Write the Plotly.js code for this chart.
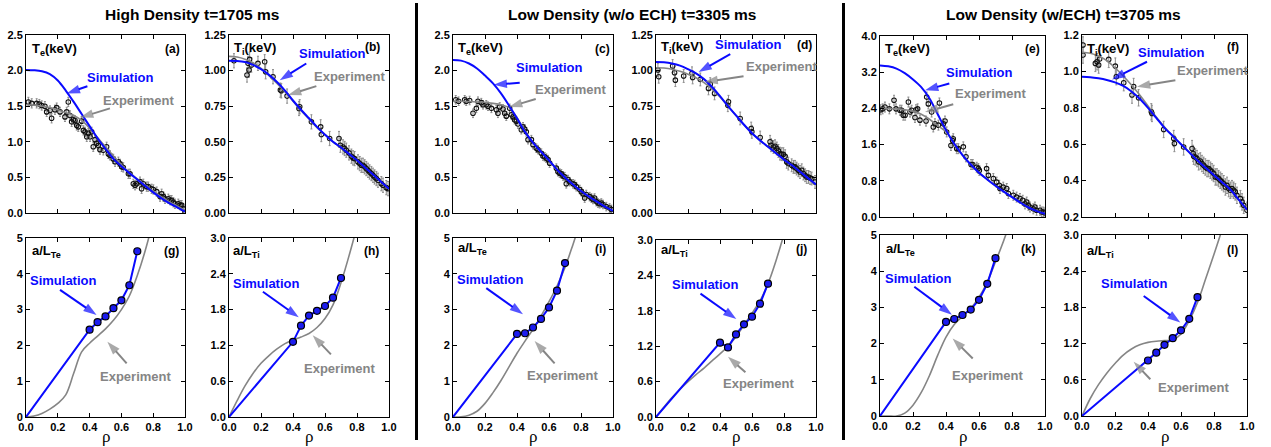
<!DOCTYPE html>
<html><head><meta charset="utf-8">
<script src="https://cdn.plot.ly/plotly-3.0.1.min.js"></script>
<style>html,body{margin:0;padding:0;background:#fff}#chart{width:1271px;height:447px}</style>
</head><body><div id="chart"></div>
<script>
// ---------------- DATA ----------------
const RHO = [0,0.05,0.1,0.15,0.2,0.25,0.3,0.35,0.4,0.45,0.5,0.55,0.6,0.65,0.7,0.75,0.8,0.85,0.9,0.95,1.0];
const RHO_B = [0,0.05,0.1,0.15,0.2,0.25,0.3,0.35,0.4,0.45,0.5,0.55,0.6,0.65,0.7,0.75,0.8,0.85];
const SIM_RHO = [0.4,0.45,0.5,0.55,0.6,0.65,0.7];

// top row: simulated and experimental-fit profiles
const simA = [2.01,2.005,1.99,1.95,1.86,1.72,1.56,1.39,1.22,1.05,0.90,0.76,0.655,0.56,0.47,0.38,0.29,0.21,0.14,0.08,0.02];
const expA = [1.52,1.515,1.50,1.48,1.45,1.41,1.37,1.30,1.19,1.06,0.93,0.80,0.68,0.57,0.48,0.39,0.31,0.23,0.16,0.10,0.04];
const simB = [1.07,1.068,1.06,1.04,1.01,0.97,0.92,0.86,0.79,0.725,0.665,0.605,0.55,0.50,0.46,0.415,0.37,0.32,0.27,0.22,0.17];
const expB = [1.10,1.095,1.08,1.055,1.015,0.965,0.91,0.85,0.785,0.72,0.66,0.60,0.55,0.50,0.46,0.415,0.37,0.32,0.27,0.22,0.17];
const simC = [2.15,2.14,2.10,2.03,1.93,1.82,1.68,1.51,1.33,1.14,0.99,0.86,0.74,0.61,0.50,0.40,0.31,0.23,0.16,0.09,0.03];
const expC = [1.57,1.57,1.565,1.56,1.555,1.54,1.52,1.48,1.34,1.15,0.99,0.86,0.74,0.61,0.50,0.40,0.31,0.23,0.16,0.09,0.03];
const simD = [1.06,1.058,1.05,1.035,1.01,0.98,0.94,0.885,0.82,0.75,0.685,0.62,0.56,0.51,0.465,0.42,0.375,0.335,0.29,0.245,0.20];
const expD = [1.02,1.018,1.01,0.995,0.975,0.95,0.915,0.87,0.815,0.75,0.685,0.62,0.56,0.51,0.465,0.42,0.375,0.335,0.29,0.245,0.20];
const simE = [3.35,3.33,3.28,3.18,3.04,2.87,2.62,2.27,1.92,1.62,1.37,1.16,0.98,0.83,0.69,0.56,0.44,0.32,0.21,0.13,0.07];
const expE = [2.40,2.395,2.39,2.37,2.34,2.27,2.16,2.02,1.88,1.62,1.37,1.16,0.98,0.83,0.69,0.56,0.44,0.32,0.21,0.13,0.07];
const simF = [0.97,0.968,0.962,0.953,0.94,0.92,0.89,0.85,0.80,0.745,0.69,0.645,0.60,0.555,0.51,0.47,0.43,0.39,0.35,0.295,0.24];
const expF = [1.105,1.10,1.085,1.06,1.02,0.975,0.925,0.87,0.81,0.75,0.695,0.645,0.60,0.555,0.51,0.47,0.43,0.39,0.35,0.295,0.24];

// top row: measured points
const ptsA_r = [0.015,0.036,0.067,0.084,0.099,0.119,0.130,0.151,0.161,0.182,0.193,0.214,0.245,0.256,0.266,0.277,0.287,0.298,0.308,0.319,0.329,0.350,0.361,0.371,0.382,0.392,0.403,0.413,0.423,0.434,0.444,0.455,0.465,0.486,0.507,0.518,0.528,0.549,0.560,0.581,0.591,0.602,0.612,0.644,0.654,0.675,0.686,0.696,0.717,0.727,0.738,0.759,0.769,0.790,0.801,0.822,0.843,0.853,0.864,0.874,0.895,0.906,0.916,0.927,0.937,0.958,0.969,0.979,0.990,1.0];
const ptsA_v = [1.56,1.54,1.54,1.53,1.51,1.50,1.42,1.44,1.33,1.45,1.48,1.42,1.35,1.42,1.56,1.37,1.28,1.31,1.30,1.23,1.21,1.29,1.16,1.14,1.07,1.12,1.07,1.14,0.93,1.03,0.98,0.95,0.89,0.88,0.93,0.83,0.81,0.76,0.72,0.72,0.69,0.65,0.64,0.55,0.55,0.41,0.39,0.41,0.44,0.34,0.41,0.37,0.37,0.34,0.33,0.30,0.23,0.27,0.23,0.20,0.20,0.18,0.18,0.15,0.13,0.13,0.11,0.11,0.06,0.01];
const ptsB_r = [0.031,0.1125,0.119,0.125,0.129,0.140,0.181,0.223,0.229,0.275,0.321,0.327,0.363,0.4375,0.442,0.515,0.573,0.577,0.629,0.6875,0.696,0.7125,0.723,0.733,0.75,0.765,0.775,0.785,0.806,0.817,0.827,0.8375,0.848,0.858,0.869,0.879,0.890,0.9,0.910,0.921,0.931,0.952,0.9625,0.983,0.994];
const ptsB_v = [1.069,0.969,1.051,1.004,1.079,1.039,1.051,1.062,0.992,0.957,0.863,0.858,0.821,0.734,0.746,0.640,0.605,0.551,0.523,0.523,0.476,0.464,0.453,0.441,0.422,0.399,0.387,0.382,0.359,0.347,0.335,0.335,0.324,0.312,0.300,0.288,0.277,0.265,0.253,0.242,0.230,0.206,0.195,0.178,0.171];
const ptsC_r = [0.017,0.035,0.073,0.083,0.104,0.125,0.146,0.156,0.177,0.1875,0.208,0.219,0.240,0.271,0.281,0.292,0.3125,0.323,0.333,0.354,0.365,0.375,0.385,0.396,0.406,0.427,0.4375,0.448,0.458,0.469,0.490,0.5,0.521,0.531,0.552,0.5625,0.573,0.583,0.594,0.604,0.646,0.656,0.667,0.677,0.6875,0.698,0.708,0.719,0.729,0.75,0.760,0.771,0.792,0.802,0.8125,0.823,0.833,0.854,0.865,0.875,0.885,0.896,0.906,0.917,0.927,0.9375,0.958,0.979,0.990];
const ptsC_v = [1.59,1.57,1.59,1.57,1.58,1.40,1.47,1.57,1.55,1.52,1.52,1.50,1.47,1.45,1.40,1.49,1.46,1.40,1.36,1.47,1.38,1.35,1.31,1.29,1.25,1.17,1.21,1.18,1.14,1.03,1.03,0.96,0.91,0.89,0.84,0.80,0.79,0.77,0.75,0.70,0.63,0.58,0.56,0.55,0.52,0.51,0.41,0.47,0.44,0.41,0.40,0.37,0.33,0.30,0.27,0.21,0.26,0.23,0.21,0.19,0.21,0.16,0.14,0.13,0.14,0.12,0.09,0.07,0.05];
const ptsD_r = [0.012,0.017,0.104,0.116,0.121,0.173,0.225,0.229,0.277,0.328,0.339,0.366,0.449,0.453,0.526,0.595,0.599,0.651,0.713,0.719,0.734,0.744,0.755,0.765,0.775,0.786,0.796,0.807,0.817,0.827,0.848,0.859,0.869,0.879,0.890,0.900,0.911,0.921,0.932,0.942,0.953,0.963,0.973,0.994];
const ptsD_v = [1.004,0.957,1.032,0.985,0.933,0.962,0.981,0.952,0.938,0.875,0.905,0.840,0.757,0.781,0.664,0.593,0.570,0.530,0.500,0.476,0.464,0.469,0.453,0.436,0.417,0.413,0.413,0.399,0.359,0.347,0.335,0.324,0.324,0.312,0.300,0.288,0.300,0.277,0.265,0.253,0.253,0.246,0.242,0.218];
const ptsE_r = [0.004,0.016,0.030,0.057,0.085,0.097,0.121,0.131,0.141,0.152,0.172,0.182,0.192,0.212,0.218,0.228,0.242,0.279,0.283,0.293,0.313,0.323,0.333,0.354,0.360,0.384,0.394,0.404,0.430,0.440,0.444,0.465,0.475,0.505,0.521,0.552,0.562,0.586,0.596,0.602,0.646,0.657,0.687,0.707,0.723,0.727,0.747,0.768,0.778,0.808,0.828,0.848,0.865,0.879,0.889,0.899,0.909,0.929,0.939,0.949,0.970,0.980,0.990,1.0];
const ptsE_v = [2.37,2.39,2.43,2.39,2.58,2.39,2.36,2.36,2.25,2.25,2.54,2.32,2.36,2.20,2.37,2.39,2.14,2.12,2.65,2.50,2.32,1.99,2.06,2.03,2.52,2.06,2.12,1.88,1.58,1.69,1.73,1.51,1.51,1.55,1.33,1.16,1.16,1.10,1.07,1.03,1.07,0.92,0.85,0.77,0.70,0.63,0.66,0.63,0.52,0.48,0.44,0.41,0.37,0.29,0.33,0.26,0.22,0.18,0.22,0.15,0.15,0.11,0.11,0.09];
const ptsF_r = [0.006,0.006,0.081,0.091,0.101,0.107,0.162,0.202,0.208,0.253,0.303,0.313,0.343,0.420,0.424,0.495,0.556,0.560,0.616,0.667,0.673,0.677,0.687,0.697,0.707,0.717,0.727,0.737,0.747,0.758,0.768,0.778,0.788,0.798,0.808,0.818,0.828,0.838,0.848,0.859,0.869,0.879,0.889,0.899,0.909,0.919,0.929,0.939,0.960,0.970,0.980,1.0];
const ptsF_v = [1.145,1.09,1.044,1.053,1.035,1.068,1.066,1.029,0.971,0.938,0.870,0.917,0.855,0.778,0.769,0.681,0.631,0.604,0.585,0.576,0.549,0.534,0.530,0.521,0.503,0.508,0.494,0.484,0.475,0.466,0.466,0.457,0.448,0.439,0.420,0.420,0.411,0.402,0.393,0.383,0.365,0.374,0.356,0.347,0.356,0.347,0.338,0.319,0.301,0.283,0.264,0.237];

// bottom row: experimental gradient (a/L) curves and simulation points
const gExpG = [0,0.03,0.10,0.22,0.38,0.62,1.22,1.82,2.06,2.26,2.46,2.70,3.0,3.38,3.95,4.65,5.5,6.5];
const gExpH = [0,0.27,0.52,0.73,0.90,1.03,1.14,1.23,1.29,1.34,1.40,1.50,1.65,1.88,2.25,2.70,3.2,3.8];
const gExpI = [0,0.005,0.05,0.16,0.38,0.68,1.02,1.40,1.78,2.12,2.45,2.82,3.22,3.66,4.18,4.82,5.5,6.2];
const gExpJ = [0,0.17,0.33,0.47,0.60,0.72,0.83,0.95,1.07,1.20,1.36,1.56,1.76,1.97,2.26,2.65,3.1,3.6];
const gExpK = [0,0,0,0.08,0.30,0.65,1.12,1.68,2.18,2.53,2.75,2.97,3.28,3.70,4.26,4.85,5.5,6.2];
const gExpL = [0,0.29,0.52,0.71,0.87,1.01,1.11,1.18,1.22,1.24,1.25,1.26,1.36,1.58,1.88,2.28,2.68,3.1];
const gSimG = [2.44,2.65,2.81,3.04,3.26,3.68,4.63];
const gSimH = [1.26,1.53,1.70,1.78,1.86,2.00,2.33];
const gSimI = [2.32,2.34,2.50,2.74,3.06,3.53,4.30];
const gSimJ = [1.26,1.18,1.40,1.57,1.70,1.92,2.26];
const gSimK = [2.60,2.68,2.79,2.94,3.21,3.65,4.36];
const gSimL = [0.92,1.05,1.18,1.29,1.42,1.61,1.97];

// text
const TITLES = ['High Density t=1705 ms','Low Density (w/o ECH) t=3305 ms','Low Density (w/ECH) t=3705 ms'];
const LETTERS = ['(a)','(b)','(c)','(d)','(e)','(f)','(g)','(h)','(i)','(j)','(k)','(l)'];
const YLABELS = ['T<sub>e</sub>(keV)','T<sub>i</sub>(keV)','T<sub>e</sub>(keV)','T<sub>i</sub>(keV)','T<sub>e</sub>(keV)','T<sub>i</sub>(keV)',
                 'a/L<sub>Te</sub>','a/L<sub>Ti</sub>','a/L<sub>Te</sub>','a/L<sub>Ti</sub>','a/L<sub>Te</sub>','a/L<sub>Ti</sub>'];

// ---------------- LAYOUT ----------------
const W = 1271, H = 447;
const FONT = 'Liberation Sans, Arial, Helvetica, sans-serif';
const BLUE = '#0a0aff', GRAY = '#858585';
const XDOM = [[26,185],[229,389],[453,613],[656,816],[880,1045],[1082,1247]];
const YTOP = [[35,213],[35,213],[35,213],[35,213],[36,217],[35,217]];
const YBOT = [[238,417],[238,417],[238,417],[240,417],[235,416],[235,416]];
const YAX = [
  {range:[0,2.5], dtick:0.5, fmt:'.1f'}, {range:[0,1.25], dtick:0.25, fmt:'.2f'},
  {range:[0,2.5], dtick:0.5, fmt:'.1f'}, {range:[0,1.25], dtick:0.25, fmt:'.2f'},
  {range:[0,4.0], dtick:0.8, fmt:'.1f'}, {range:[0.2,1.2], dtick:0.2, fmt:'.1f'},
  {range:[0,5], dtick:1, fmt:'d'}, {range:[0,3], dtick:0.6, fmt:'.1f'},
  {range:[0,5], dtick:1, fmt:'d'}, {range:[0,3], dtick:0.6, fmt:'.1f'},
  {range:[0,5], dtick:1, fmt:'d'}, {range:[0,3], dtick:0.6, fmt:'.1f'}
];
// annotation placement (data coords of each panel): simText, simTail, simTip, expText, expTail, expTip, letter, ylabel
const ANN = [
 [[0.595,1.90],[0.386,1.78],[0.256,1.68],[0.707,1.585],[0.528,1.47],[0.34,1.34],[0.922,2.31],[0.025,2.30]],
 [[0.644,1.121],[0.483,1.05],[0.317,0.933],[0.754,0.96],[0.546,0.891],[0.369,0.828],[0.896,1.163],[0.02,1.156]],
 [[0.60,2.05],[0.417,1.83],[0.254,1.80],[0.733,1.73],[0.517,1.60],[0.35,1.49],[0.933,2.31],[0.02,2.31]],
 [[0.578,1.18],[0.464,1.116],[0.266,0.99],[0.786,1.03],[0.547,0.96],[0.303,0.92],[0.931,1.18],[0.02,1.16]],
 [[0.602,3.20],[0.42,2.95],[0.273,2.80],[0.667,2.74],[0.444,2.49],[0.273,2.32],[0.925,3.72],[0.02,3.70]],
 [[0.545,1.103],[0.394,1.053],[0.182,0.956],[0.788,1.004],[0.566,0.952],[0.333,0.916],[0.915,1.136],[0.02,1.12]],
 [[0.235,3.80],[0.214,3.55],[0.444,2.85],[0.686,1.12],[0.633,1.50],[0.512,2.10],[0.916,4.63],[0.025,4.63]],
 [[0.237,2.24],[0.212,2.10],[0.436,1.67],[0.693,0.82],[0.637,1.05],[0.523,1.37],[0.892,2.78],[0.015,2.78]],
 [[0.233,3.83],[0.208,3.60],[0.4375,2.87],[0.683,1.15],[0.635,1.50],[0.51,2.12],[0.921,4.70],[0.02,4.70]],
 [[0.307,2.24],[0.278,2.09],[0.502,1.66],[0.642,0.57],[0.559,0.76],[0.45,1.02],[0.91,2.85],[0.02,2.82]],
 [[0.232,3.80],[0.208,3.57],[0.436,2.80],[0.653,1.125],[0.562,1.59],[0.44,2.14],[0.90,4.61],[0.025,4.61]],
 [[0.317,2.20],[0.374,1.99],[0.596,1.55],[0.673,0.47],[0.414,0.61],[0.313,0.90],[0.915,2.75],[0.02,2.72]]
];

const topSim = [simA,simB,simC,simD,simE,simF];
const topExp = [expA,expB,expC,expD,expE,expF];
const topPtsR = [ptsA_r,ptsB_r,ptsC_r,ptsD_r,ptsE_r,ptsF_r];
const topPtsV = [ptsA_v,ptsB_v,ptsC_v,ptsD_v,ptsE_v,ptsF_v];
const ERR = [0.065,0.05,0.06,0.045,0.11,0.045];
const botExp = [gExpG,gExpH,gExpI,gExpJ,gExpK,gExpL];
const botSim = [gSimG,gSimH,gSimI,gSimJ,gSimK,gSimL];

const traces = [];
const arrowTraces = [];
const layout = {
  width: W, height: H, margin:{l:0,r:0,t:0,b:0},
  paper_bgcolor:'#fff', plot_bgcolor:'#fff', showlegend:false,
  font:{family:FONT, color:'#000'},
  annotations:[], shapes:[]
};
const tf = {family:FONT, size:11, color:'#000', weight:'bold'};

function axName(i){ return i===0 ? '' : String(i+1); }

for (let p=0; p<12; p++){
  const col = p % 6, top = p < 6;
  const n = axName(p);
  const xr = 'x'+n, yr = 'y'+n;
  const yd = top ? YTOP[col] : YBOT[col];
  const base = {showline:true, linecolor:'#000', linewidth:1, mirror:'ticks', ticks:'inside',
    ticklen:4, tickwidth:1, tickcolor:'#000', showgrid:false, zeroline:false, fixedrange:true, tickfont:tf};
  layout['xaxis'+n] = Object.assign({}, base, {
    domain:[XDOM[col][0]/W, XDOM[col][1]/W], anchor:yr, range:[0,1], dtick:0.2, tick0:0,
    tickformat:'.1f', showticklabels:!top, ticklabelstandoff:0
  });
  layout['yaxis'+n] = Object.assign({}, base, {
    domain:[1-yd[1]/H, 1-yd[0]/H], anchor:xr, range:YAX[p].range, dtick:YAX[p].dtick,
    tick0:YAX[p].range[0], tickformat:YAX[p].fmt
  });

  if (top){
    traces.push({x:topPtsR[col], y:topPtsV[col], xaxis:xr, yaxis:yr, mode:'markers',
      marker:{symbol:'circle-open', size:4.5, color:'#111', line:{width:1.1,color:'#111'}},
      error_y:{type:'constant', value:ERR[col], color:'#8c8c8c', thickness:1, width:1}, hoverinfo:'skip'});
    traces.push({x:RHO, y:topExp[col], xaxis:xr, yaxis:yr, mode:'lines', line:{color:GRAY,width:1.6,shape:'spline'}, hoverinfo:'skip'});
    traces.push({x:RHO, y:topSim[col], xaxis:xr, yaxis:yr, mode:'lines', line:{color:BLUE,width:2,shape:'spline'}, hoverinfo:'skip'});
  } else {
    traces.push({x:RHO_B, y:botExp[col], xaxis:xr, yaxis:yr, mode:'lines', line:{color:GRAY,width:1.6,shape:'spline'}, hoverinfo:'skip'});
    traces.push({x:[0].concat(SIM_RHO), y:[0].concat(botSim[col]), xaxis:xr, yaxis:yr, mode:'lines', line:{color:BLUE,width:2}, hoverinfo:'skip'});
    traces.push({x:SIM_RHO, y:botSim[col], xaxis:xr, yaxis:yr, mode:'markers',
      marker:{symbol:'circle', size:7, color:'#1c1cf0', line:{width:1.2,color:'#000'}}, hoverinfo:'skip'});
  }

  const a = ANN[p];
  const txt = (pos, t, c) => ({xref:xr, yref:yr, x:pos[0], y:pos[1], text:t, showarrow:false,
     xanchor:'center', yanchor:'middle', font:{family:FONT, size:13, color:c, weight:'bold'}});
  const arr = (tail, tip, c) => ({x:[tail[0], tip[0]], y:[tail[1], tip[1]], xaxis:xr, yaxis:yr,
     mode:'lines+markers', line:{color:c, width:2},
     marker:{symbol:'arrow', size:[0,14], angleref:'previous', color:c, line:{width:0}}, hoverinfo:'skip', cliponaxis:false});
  layout.annotations.push(txt(a[0],'Simulation',BLUE));
  arrowTraces.push(arr(a[1],a[2],BLUE));
  layout.annotations.push(txt(a[3],'Experiment',GRAY));
  arrowTraces.push(arr(a[4],a[5],GRAY));
  layout.annotations.push({xref:xr, yref:yr, x:a[6][0], y:a[6][1], text:LETTERS[p], showarrow:false,
     xanchor:'center', yanchor:'middle', font:{family:FONT, size:12, color:'#000', weight:'bold'}});
  layout.annotations.push({xref:xr, yref:yr, x:a[7][0], y:a[7][1], text:YLABELS[p], showarrow:false,
     xanchor:'left', yanchor:'middle', font:{family:FONT, size:13, color:'#000', weight:'bold'}});
  if (!top){
    layout.annotations.push({xref:'paper', yref:'paper', x:(XDOM[col][0]+XDOM[col][1])/2/W, y:1-436/H,
      text:'ρ', showarrow:false, xanchor:'center', yanchor:'middle', font:{family:'Liberation Serif, serif', size:17, color:'#000'}});
  }
}

const TITLE_X = [192, 632, 1063];
TITLES.forEach((t,i)=>{
  layout.annotations.push({xref:'paper', yref:'paper', x:TITLE_X[i]/W, y:1-15/H, text:t, showarrow:false,
    xanchor:'center', yanchor:'middle', font:{family:FONT, size:15.5, color:'#000', weight:'bold'}});
});
[416.5, 843.5].forEach(xp=>{
  layout.shapes.push({type:'line', xref:'paper', yref:'paper', x0:xp/W, x1:xp/W, y0:1-3/H, y1:1-440/H,
    line:{color:'#000', width:3}});
});

Plotly.newPlot('chart', traces.concat(arrowTraces), layout, {staticPlot:true, displayModeBar:false}).then(gd=>{
  // drop empty placeholder text nodes (untitled axes)
  gd.querySelectorAll('text').forEach(t=>{ if(!t.textContent.trim()) t.remove(); });
});
</script>
</body></html>
